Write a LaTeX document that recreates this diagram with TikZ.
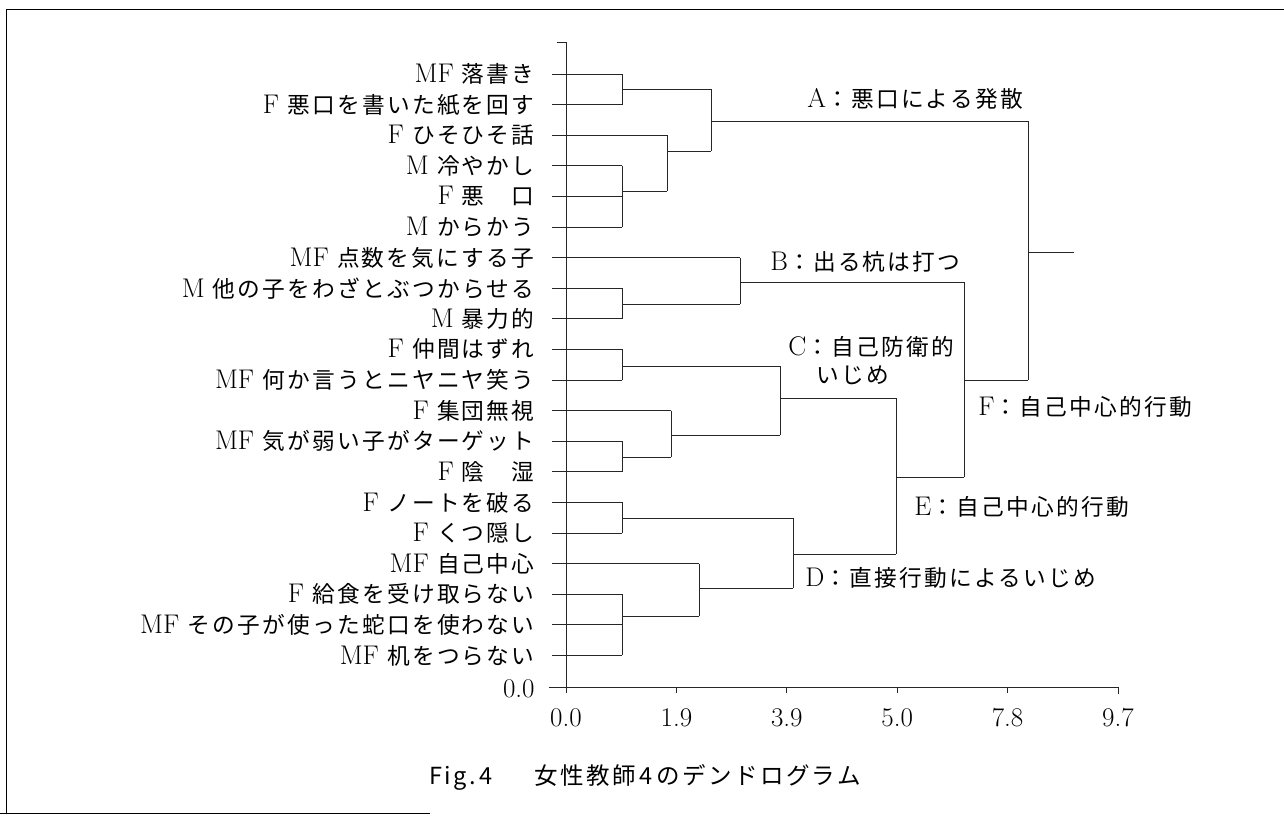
\documentclass[tikz,border=0pt]{standalone}
\usepackage{fontspec}
\newfontfamily\jp{Noto Sans CJK JP}[LetterSpace=10,Scale=0.84]
\newfontfamily\jpcap{Noto Sans CJK JP}[LetterSpace=10]
\begin{document}
\begin{tikzpicture}[x=1pt,y=-1pt,line width=0.9pt,
  leaf/.style={anchor=east,inner sep=0pt,font=\fontsize{27}{30}\selectfont},
  grp/.style={anchor=west,inner sep=0pt,font=\fontsize{27}{30}\selectfont},
  ticklab/.style={inner sep=0pt,font=\fontsize{27}{30}\selectfont},
  dline/.style={line width=0.9pt,black!85}]
\useasboundingbox (0,0) rectangle (1284,821);
% frame
\draw[line width=1pt] (1284,10) -- (6,10) -- (6,813);
\draw[line width=1pt] (0,813) -- (430,813);
% leaf labels
\node[leaf] (L0)  at (535,74)    {MF {\jp 落書き}};
\node[leaf] (L1)  at (535,104.6) {F {\jp 悪口を書いた紙を回す}};
\node[leaf] (L2)  at (535,135.2) {F {\jp ひそひそ話}};
\node[leaf] (L3)  at (535,165.8) {M {\jp 冷やかし}};
\node[leaf] (L4)  at (535,196.4) {F {\jp 悪　口}};
\node[leaf] (L5)  at (535,227)   {M {\jp からかう}};
\node[leaf] (L6)  at (535,257.6) {MF {\jp 点数を気にする子}};
\node[leaf] (L7)  at (535,288.2) {M {\jp 他の子をわざとぶつからせる}};
\node[leaf] (L8)  at (535,318.8) {M {\jp 暴力的}};
\node[leaf] (L9)  at (535,349.4) {F {\jp 仲間はずれ}};
\node[leaf] (L10) at (535,380)   {MF {\jp 何か言うとニヤニヤ笑う}};
\node[leaf] (L11) at (535,410.6) {F {\jp 集団無視}};
\node[leaf] (L12) at (535,441.2) {MF {\jp 気が弱い子がターゲット}};
\node[leaf] (L13) at (535,471.8) {F {\jp 陰　湿}};
\node[leaf] (L14) at (535,502.4) {F {\jp ノートを破る}};
\node[leaf] (L15) at (535,533)   {F {\jp くつ隠し}};
\node[leaf] (L16) at (535,563.6) {MF {\jp 自己中心}};
\node[leaf] (L17) at (535,594.2) {F {\jp 給食を受け取らない}};
\node[leaf] (L18) at (535,624.8) {MF {\jp その子が使った蛇口を使わない}};
\node[leaf] (L19) at (535,655.4) {MF {\jp 机をつらない}};
\node[leaf] (Y0)  at (535,689)   {0.0};
% axes
\coordinate (ytop) at (566,42);
\coordinate (orig) at (566,687);
\draw[dline] (557,42) -- (ytop) -- (566,693);
\draw[dline] (549,687) -- (1118,687) -- (1118,694);
\foreach \k/\lab in {0/0.0,1/1.9,2/3.9,3/5.0,4/7.8,5/9.7}{
  \draw[dline] (566+110.4*\k,687) -- (566+110.4*\k,693);
  \node[ticklab] (T\k) at (566+110.4*\k,718) {\lab};
}
% leaf lines
\foreach \y/\x in {74/622,104.6/622,135.2/667,165.8/622,196.4/622,227/622,257.6/740,288.2/622,318.8/622,349.4/622,380/622,410.6/671,441.2/622,471.8/622,502.4/622,533/622,563.6/699,594.2/622,624.8/622,655.4/622}{
  \draw[dline] (552,\y) -- (\x,\y);
}
% merges
\draw[dline] (622,74) -- (622,104.6);
\draw[dline] (622,165.8) -- (622,227);
\draw[dline] (622,288.2) -- (622,318.8);
\draw[dline] (622,349.4) -- (622,380);
\draw[dline] (622,441.2) -- (622,471.8);
\draw[dline] (622,502.4) -- (622,533);
\draw[dline] (622,594.2) -- (622,655.4);
% cluster A
\coordinate (a1) at (711,89);
\coordinate (a2) at (711,151);
\draw[dline] (622,89) -- (a1);
\draw[dline] (622,191) -- (667,191);
\draw[dline] (667,135.2) -- (667,191);
\draw[dline] (667,151) -- (a2);
\draw[dline] (a1) -- (a2);
\coordinate (Aout) at (711,121);
\coordinate (Fa) at (1028,121);
\draw[dline] (Aout) -- (Fa);
% cluster B
\draw[dline] (622,304) -- (740,304);
\draw[dline] (740,257.6) -- (740,304);
\coordinate (Bout) at (740,282);
\coordinate (Eb) at (964,282);
\draw[dline] (Bout) -- (Eb);
% cluster C
\draw[dline] (622,366) -- (780,366);
\draw[dline] (622,457) -- (671,457);
\draw[dline] (671,410.6) -- (671,457);
\draw[dline] (671,435) -- (780,435);
\draw[dline] (780,366) -- (780,435);
\coordinate (Cout) at (780,398);
\coordinate (Dc) at (896,398);
\draw[dline] (Cout) -- (Dc);
% cluster D
\draw[dline] (622,518) -- (793,518);
\draw[dline] (622,616) -- (699,616);
\draw[dline] (699,563.6) -- (699,616);
\draw[dline] (699,588) -- (793,588);
\draw[dline] (793,518) -- (793,588);
\coordinate (Dout) at (793,554);
\coordinate (Dd) at (896,554);
\draw[dline] (Dout) -- (Dd);
% E
\draw[dline] (Dc) -- (Dd);
\coordinate (Eout) at (896,477);
\coordinate (Ee) at (964,477);
\draw[dline] (Eout) -- (Ee);
\draw[dline] (Eb) -- (Ee);
\coordinate (Fe) at (1028,380);
\draw[dline] (964,380) -- (Fe);
% F
\draw[dline] (Fa) -- (Fe);
\coordinate (root) at (1074,252);
\draw[dline] (1028,252) -- (root);
% group labels
\node[grp] (gA) at (807,99)  {A{\jp ：悪口による発散}};
\node[grp] (gB) at (770,262) {B{\jp ：出る杭は打つ}};
\node[grp] (gC) at (788,347) {C{\jp ：自己防衛的}};
\node[grp] (gC2) at (816,375) {{\jp いじめ}};
\node[grp] (gF) at (978,407) {F{\jp ：自己中心的行動}};
\node[grp] (gE) at (914,507) {E{\jp ：自己中心的行動}};
\node[grp] (gD) at (805,578) {D{\jp ：直接行動によるいじめ}};
% caption
\node[inner sep=0pt,font=\jpcap\fontsize{23.5}{26}\selectfont] (cap) at (645,777) {Fig.\,4\hspace{1.8em}女性教師\,4\,のデンドログラム};
\end{tikzpicture}
\end{document}
